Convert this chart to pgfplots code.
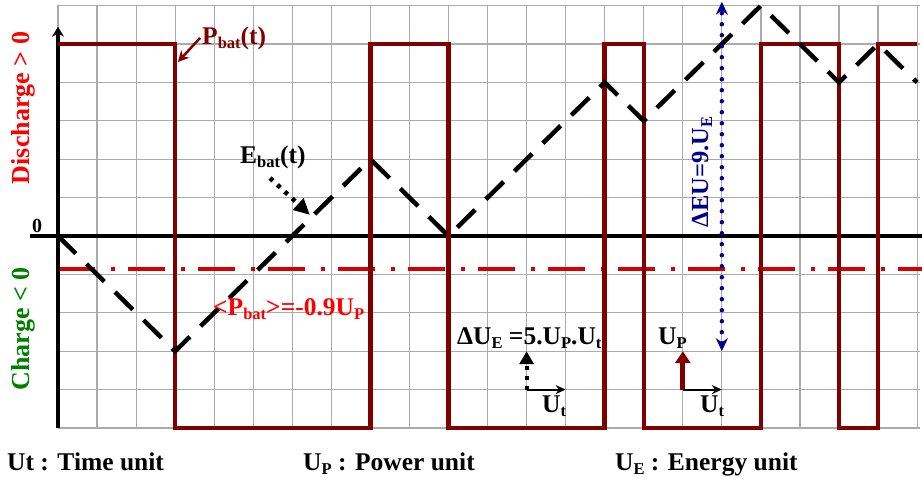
\documentclass[border=0pt]{standalone}
\usepackage{pgfplots}
\pgfplotsset{compat=1.18}
\usepackage{fontspec}
\setmainfont{Liberation Serif}
\usetikzlibrary{arrows.meta}
\definecolor{maroon}{RGB}{128,0,0}
\definecolor{dred}{RGB}{215,0,0}
\definecolor{navyb}{RGB}{0,0,140}
\definecolor{dgreen}{RGB}{0,128,0}
\newcommand\fs{\fontsize{25.5}{30}\selectfont\bfseries}
\newcommand\sub[1]{\raisebox{-4pt}{\fontsize{16.5}{18}\selectfont\bfseries #1}}
\begin{document}
\begin{tikzpicture}
\begin{axis}[anchor=origin, at={(0pt,0pt)}, x=39.05pt, y=38.4pt,
  xmin=0, xmax=22.08, ymin=-5, ymax=6.02,
  axis line style={draw=none},
  xtick={0,...,22}, ytick={-5,...,6},
  xticklabels={}, yticklabels={}, major tick length=0pt,
  grid=major, grid style={draw=black!33, line width=1.2pt},
  clip=false]
% mean power
\addplot[dred, line width=4pt, dash pattern=on 37pt off 16pt on 4pt off 13pt] coordinates {(0,-0.85) (22.13,-0.85)};
% axes
\addplot[black, line width=3.5pt] coordinates {(-0.72,0) (22.13,0)};
\addplot[black, line width=3.5pt, -{Stealth[length=10pt,width=12pt]}] coordinates {(0,-5) (0,5.45)};
% Pbat
\addplot[maroon, line width=4.5pt, line join=miter] coordinates {
 (0,5) (3,5) (3,-5) (8,-5) (8,5) (10,5) (10,-5) (14,-5) (14,5) (15,5) (15,-5)
 (18,-5) (18,5) (20,5) (20,-5) (21,-5) (21,5) (22,5)};
% Ebat
\addplot[black, line width=4.5pt, dash pattern=on 25pt off 15pt] coordinates {
 (0,0) (3,-3) (8,2) (10,0) (14,4) (15,3) (18,6) (20,4) (21,5) (22,4)};
% Delta EU
\addplot[navyb, line width=4.5pt, line cap=round, dash pattern=on 0pt off 11pt,
  {Stealth[length=13pt,width=12pt]}-{Stealth[length=13pt,width=12pt]}] coordinates {(17,-3) (17,6.1)};
% unit arrows
\addplot[black, line width=4pt, dash pattern=on 4pt off 6pt, -{Triangle[length=13pt,width=14pt]}] coordinates {(12,-4) (12,-3)};
\addplot[black, line width=2pt, -{Stealth[length=10pt,width=9pt]}] coordinates {(12,-4) (13,-4)};
\addplot[maroon, line width=5pt, -{Triangle[length=12pt,width=15pt]}] coordinates {(16,-4) (16,-3)};
\addplot[black, line width=2pt, -{Stealth[length=10pt,width=9pt]}] coordinates {(16,-4) (17,-4)};
% pointers
\addplot[maroon, line width=2.5pt, -{Stealth[length=11pt,width=11pt]}] coordinates {(3.64,5.16) (3.07,4.53)};
\addplot[black, line width=4.5pt, dash pattern=on 4pt off 6pt, -{Triangle[length=16pt,width=15pt]}] coordinates {(5.43,1.51) (6.45,0.55)};
\end{axis}
% texts
\node[anchor=base west, inner sep=0] at (-51pt,-234pt) {\fs Ut : Time unit};
\node[anchor=base west, inner sep=0] at (245pt,-234pt) {\fs U\sub{P} : Power unit};
\node[anchor=base west, inner sep=0] at (557pt,-234pt) {\fs U\sub{E} : Energy unit};
\node[anchor=base west, inner sep=0] at (-26pt,3pt) {\fontsize{20}{24}\selectfont\bfseries 0};
\node[anchor=base west, inner sep=0, text=maroon] at (144pt,191pt) {\fs P\sub{bat}(t)};
\node[anchor=base west, inner sep=0] at (182pt,72pt) {\fs E\sub{bat}(t)};
\node[anchor=base west, inner sep=0, text=red] at (155pt,-80pt) {\fs <P\sub{bat}>=-0.9U\sub{P}};
\node[anchor=base west, inner sep=0] at (399pt,-109pt) {\fs ΔU\sub{E} =5.U\sub{P}.U\sub{t}};
\node[anchor=base west, inner sep=0] at (600pt,-109pt) {\fs U\sub{P}};
\node[anchor=base west, inner sep=0] at (484pt,-177pt) {\fs U\sub{t}};
\node[anchor=base west, inner sep=0] at (642pt,-177pt) {\fs U\sub{t}};
\node[rotate=90, inner sep=0, text=red] at (-35pt,128pt) {\fontsize{26}{30}\selectfont\bfseries Discharge > 0};
\node[rotate=90, inner sep=0, text=dgreen] at (-35pt,-93pt) {\fontsize{26}{30}\selectfont\bfseries Charge < 0};
\node[rotate=90, inner sep=0, text=navyb] at (644pt,64pt) {\fontsize{24.5}{28}\selectfont\bfseries ΔEU=9.U\sub{E}};
\pgfresetboundingbox
\path[use as bounding box] (-58pt,-243pt) rectangle (864pt,236pt);
\end{tikzpicture}
\end{document}
